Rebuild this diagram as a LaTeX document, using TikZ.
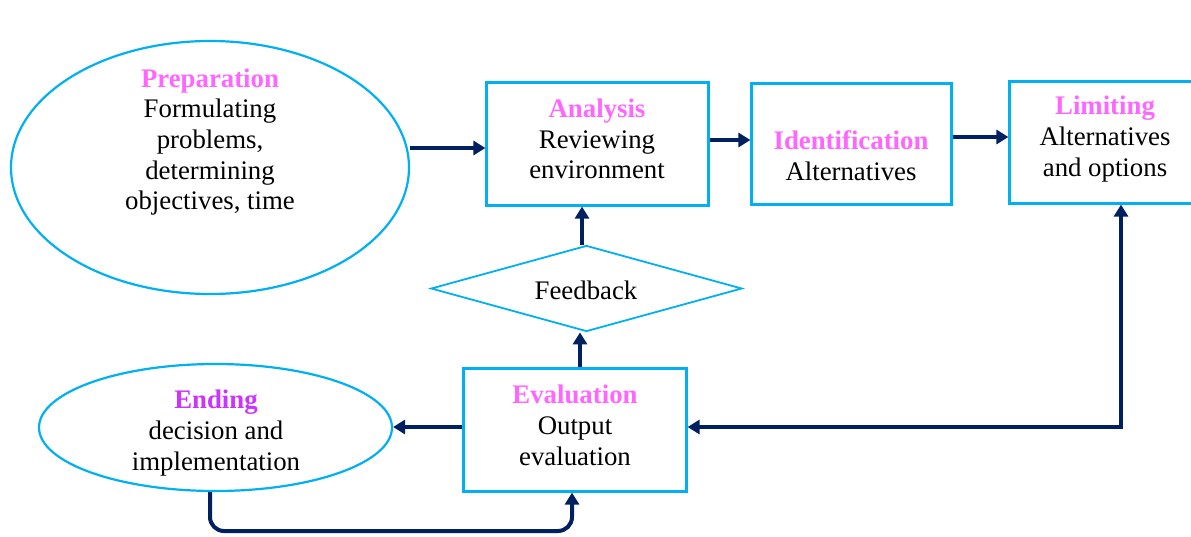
\documentclass[tikz,border=0pt]{standalone}
\usepackage{fontspec}
\setmainfont{Liberation Serif}
\usetikzlibrary{shapes.geometric,arrows.meta}
\definecolor{cyanb}{HTML}{00B0F0}
\definecolor{navy}{HTML}{002060}
\definecolor{pinkh}{HTML}{FF66FF}
\definecolor{purph}{HTML}{CC33FF}
\begin{document}
\begin{tikzpicture}[x=1pt,y=-1pt,
  box/.style={draw=cyanb,line width=2.2pt,rectangle,inner sep=0pt},
  oval/.style={draw=cyanb,line width=2.2pt,ellipse,inner sep=0pt},
  dia/.style={draw=cyanb,line width=1.8pt,diamond,inner sep=0pt},
  txt/.style={align=center,font=\fontsize{26.8}{30.7}\selectfont,inner sep=0pt},
  arr/.style={draw=navy,line width=4pt,-{Triangle[length=12pt,width=14pt]}},
  darr/.style={draw=navy,line width=4pt,{Triangle[length=12pt,width=14pt]}-{Triangle[length=12pt,width=14pt]}},
]
\useasboundingbox (0,0) rectangle (1191,536);
\fill[white] (0,0) rectangle (1191,536);

% shapes
\node[oval,minimum width=398pt,minimum height=253pt] (prep) at (210,167.5) {};
\node[box,minimum width=222pt,minimum height=123pt] (ana) at (597.5,144) {};
\node[box,minimum width=200pt,minimum height=121pt] (ident) at (851.5,144) {};
\node[box,minimum width=200pt,minimum height=122pt] (lim) at (1109.5,142.5) {};
\node[dia,minimum width=311pt,minimum height=86pt] (fb) at (586.5,288.5) {};
\node[box,minimum width=223pt,minimum height=123pt] (eval) at (575,430) {};
\node[oval,minimum width=353pt,minimum height=127pt] (end) at (215.5,427.5) {};

% texts
\node[txt] (prept) at (210,142) {{\bfseries\color{pinkh}Preparation}\\Formulating\\problems,\\determining\\objectives, time};
\node[txt] (anat) at (597,139) {{\bfseries\color{pinkh}Analysis}\\Reviewing\\environment};
\node[txt] (identt) at (851,156) {{\bfseries\color{pinkh}Identification}\\Alternatives};
\node[txt] (limt) at (1105,139) {{\bfseries\color{pinkh}Limiting}\\Alternatives\\and options};
\node[txt] (fbt) at (586,290) {Feedback};
\node[txt] (evalt) at (575,425.5) {{\bfseries\color{pinkh}Evaluation}\\Output\\evaluation};
\node[txt] (endt) at (216,433) {{\bfseries\color{purph}Ending}\\decision and\\implementation};

% connectors
\draw[arr] (prep.east |- 0,148) -- (ana.west |- 0,148);
\draw[arr] (ana.east |- 0,140) -- (ident.west |- 0,140);
\draw[arr] (ident.east |- 0,137) -- (lim.west |- 0,137);
\draw[arr] (582,0 |- fb.north) -- (582,0 |- ana.south);
\draw[arr] (580,0 |- eval.north) -- (580,0 |- fb.south);
\draw[arr] (eval.west |- 0,427) -- (end.east |- 0,427);
\draw[darr] (eval.east |- 0,427) -| (1121,0 |- lim.south);
\draw[arr,rounded corners=14pt] (210,0 |- end.south) -- (210,531) -- (572,531) -- (572,0 |- eval.south);
\end{tikzpicture}
\end{document}
